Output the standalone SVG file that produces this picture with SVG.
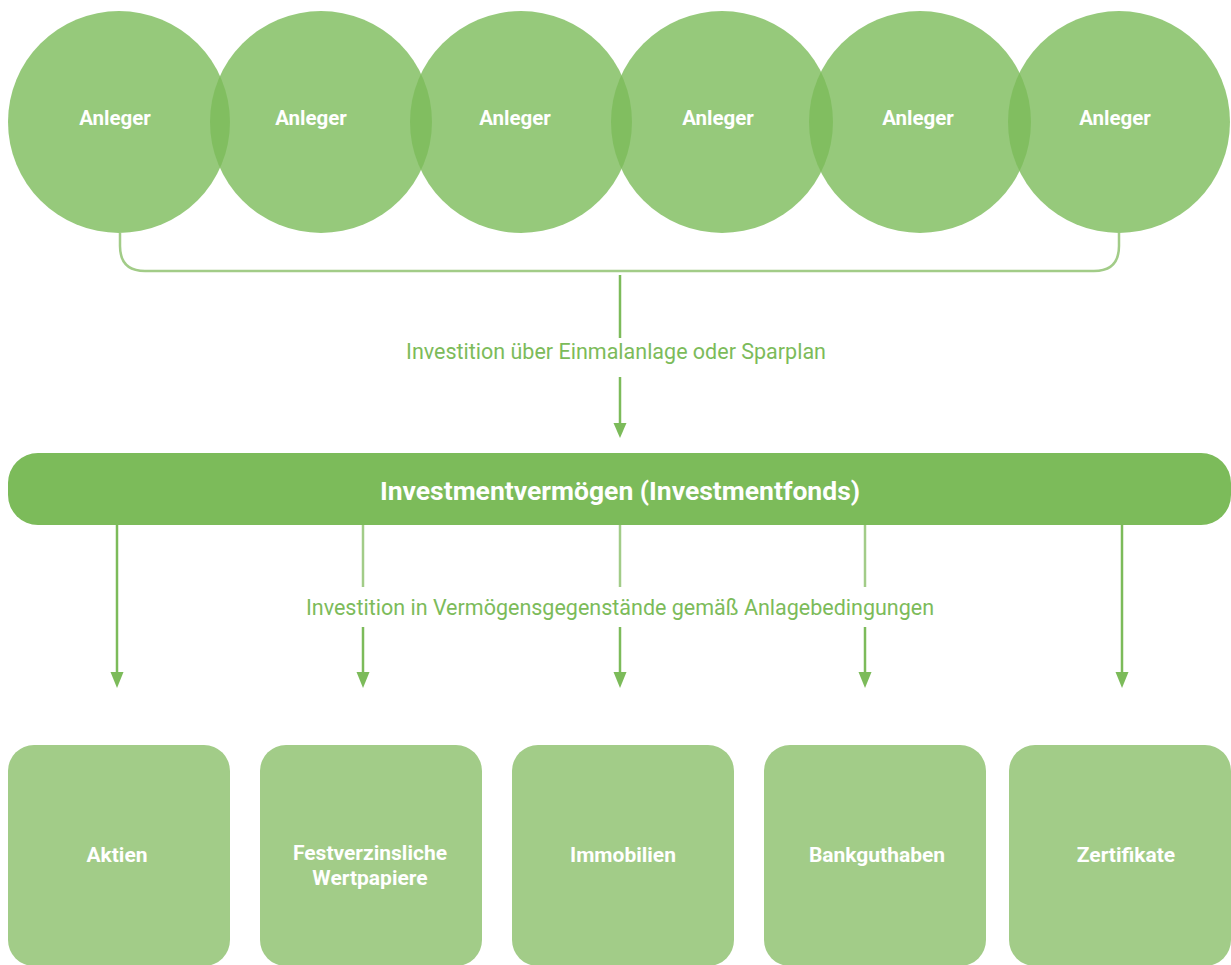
<svg xmlns="http://www.w3.org/2000/svg" width="1231" height="965" viewBox="0 0 1231 965">
<style>
.circ{fill:#7cbb5a;fill-opacity:0.8}
.box{fill:#a2cc88}
.bar{fill:#7cbb5a}
.wt{font-family:Roboto,"Liberation Sans",sans-serif;font-weight:bold;fill:#ffffff;text-anchor:middle}
.an{font-size:20.5px}
.bx{font-size:21px}
.lbl{font-family:Roboto,"Liberation Sans",sans-serif;fill:#7cbb5a;text-anchor:middle;font-size:21.5px}
.ln{stroke:#7cbb5a;stroke-width:2.5;fill:none}
.lnl{stroke:#a2cc88;stroke-width:2.5;fill:none}
.hd{fill:#7cbb5a}
</style>
<g id="connectors">
<path class="lnl" d="M120,233 V246 Q120,271 145,271 H1094 Q1119,271 1119,246 V233"/>
<line class="ln" x1="620" y1="275" x2="620" y2="338"/>
<path d="M620,377 V423" class="ln"/>
<path class="hd" d="M613.5,423 L626.5,423 L620,438 Z"/>
<line class="ln" x1="117" y1="525" x2="117" y2="672"/>
<path class="hd" d="M110.5,672 L123.5,672 L117,688 Z"/>
<line class="lnl" x1="363" y1="525" x2="363" y2="587"/>
<line class="ln" x1="363" y1="627" x2="363" y2="672"/>
<path class="hd" d="M356.5,672 L369.5,672 L363,688 Z"/>
<line class="lnl" x1="620" y1="525" x2="620" y2="587"/>
<line class="ln" x1="620" y1="627" x2="620" y2="672"/>
<path class="hd" d="M613.5,672 L626.5,672 L620,688 Z"/>
<line class="lnl" x1="865" y1="525" x2="865" y2="587"/>
<line class="ln" x1="865" y1="627" x2="865" y2="672"/>
<path class="hd" d="M858.5,672 L871.5,672 L865,688 Z"/>
<line class="ln" x1="1122" y1="525" x2="1122" y2="672"/>
<path class="hd" d="M1115.5,672 L1128.5,672 L1122,688 Z"/>
<text class="lbl" x="616" y="359">Investition über Einmalanlage oder Sparplan</text>
<text class="lbl" x="620" y="615">Investition in Vermögensgegenstände gemäß Anlagebedingungen</text>
</g>
<g id="anleger1"><circle class="circ" cx="119" cy="122" r="111"/><text class="wt an" x="115" y="125">Anleger</text></g>
<g id="anleger2"><circle class="circ" cx="321" cy="122" r="111"/><text class="wt an" x="311" y="125">Anleger</text></g>
<g id="anleger3"><circle class="circ" cx="521" cy="122" r="111"/><text class="wt an" x="515" y="125">Anleger</text></g>
<g id="anleger4"><circle class="circ" cx="722" cy="122" r="111"/><text class="wt an" x="718" y="125">Anleger</text></g>
<g id="anleger5"><circle class="circ" cx="920" cy="122" r="111"/><text class="wt an" x="918" y="125">Anleger</text></g>
<g id="anleger6"><circle class="circ" cx="1119" cy="122" r="111"/><text class="wt an" x="1115" y="125">Anleger</text></g>
<g id="fonds"><rect class="bar" x="8" y="453" width="1223" height="72" rx="30"/><text class="wt" x="620" y="500" font-size="26.5">Investmentvermögen (Investmentfonds)</text></g>
<g id="aktien"><rect class="box" x="8" y="745" width="222" height="221" rx="26"/><text class="wt bx" x="117" y="862">Aktien</text></g>
<g id="festverzinsliche"><rect class="box" x="260" y="745" width="222" height="221" rx="26"/><text class="wt bx" x="370" y="860">Festverzinsliche</text><text class="wt bx" x="370" y="885">Wertpapiere</text></g>
<g id="immobilien"><rect class="box" x="512" y="745" width="222" height="221" rx="26"/><text class="wt bx" x="623" y="862">Immobilien</text></g>
<g id="bankguthaben"><rect class="box" x="764" y="745" width="222" height="221" rx="26"/><text class="wt bx" x="877" y="862">Bankguthaben</text></g>
<g id="zertifikate"><rect class="box" x="1009" y="745" width="222" height="221" rx="26"/><text class="wt bx" x="1126" y="862">Zertifikate</text></g>
</svg>
